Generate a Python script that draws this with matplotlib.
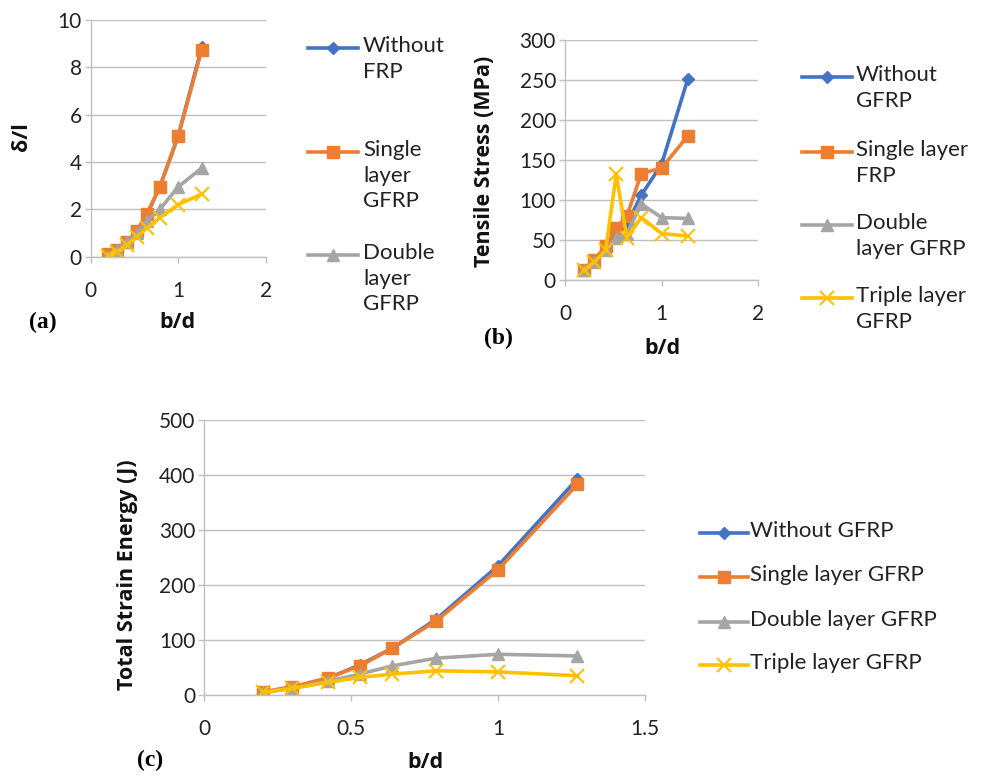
import matplotlib
matplotlib.use("Agg")
import matplotlib.pyplot as plt
from matplotlib.lines import Line2D

plt.rcParams["font.family"] = ["Lato", "DejaVu Sans"]

W, H = 985, 777

# b/d ratios shared by all three panels
bd = [0.2, 0.3, 0.42, 0.53, 0.64, 0.79, 1.0, 1.27]

# (a) deflection ratio
defl_none = [0.1, 0.3, 0.6, 1.1, 1.75, 2.95, 5.1, 8.85]
defl_single = [0.1, 0.3, 0.6, 1.1, 1.8, 2.95, 5.1, 8.75]
defl_double = [0.05, 0.3, 0.6, 1.0, 1.5, 2.0, 2.95, 3.75]
defl_triple = [0.05, 0.2, 0.5, 0.85, 1.2, 1.65, 2.2, 2.65]

# (b) tensile stress, MPa
stress_none = [12, 25, 40, 55, 70, 106, 145, 251]
stress_single = [13, 25, 42, 65, 80, 133, 140, 180]
stress_double = [12, 22, 37, 52, 58, 95, 78, 77]
stress_triple = [12, 22, 37, 132, 53, 78, 58, 55]

# (c) total strain energy, J
energy_none = [5, 13, 30, 55, 85, 138, 235, 393]
energy_single = [6, 15, 31, 53, 85, 135, 228, 383]
energy_double = [5, 12, 25, 38, 53, 67, 74, 71]
energy_triple = [5, 12, 23, 32, 38, 44, 42, 35]

labels_a = ["Without\nFRP", "Single\nlayer\nGFRP", "Double\nlayer\nGFRP"]
labels_b = ["Without\nGFRP", "Single layer\nFRP", "Double\nlayer GFRP", "Triple layer\nGFRP"]
labels_c = ["Without GFRP", "Single layer GFRP", "Double layer GFRP", "Triple layer GFRP"]

colors = ["#4472C4", "#ED7D31", "#A5A5A5", "#FFC000"]
markers = ["D", "s", "^", "x"]
msizes = [6, 9, 8, 10]
grid_col = "#BFBFBF"
bold_font = ["Open Sans", "DejaVu Sans"]
bold_size = 15.5


def px_axes(fig, x0, y0, x1, y1):
    # axes from pixel box (left, top, right, bottom)
    return fig.add_axes([x0 / W, 1 - y1 / H, (x1 - x0) / W, (y1 - y0) / H])


def style(ax, xlim, xticks, ylim, yticks):
    ax.set_xlim(*xlim)
    ax.set_ylim(*ylim)
    ax.set_xticks(xticks)
    ax.set_yticks(yticks)
    ax.set_xticklabels([f"{t:g}" for t in xticks])
    ax.set_yticklabels([f"{t:g}" for t in yticks])
    for s in ["top", "right"]:
        ax.spines[s].set_visible(False)
    for s in ["left", "bottom"]:
        ax.spines[s].set_color(grid_col)
        ax.spines[s].set_linewidth(1.0)
    ax.yaxis.grid(True, color=grid_col, linewidth=1.0)
    ax.set_axisbelow(True)
    ax.tick_params(axis="both", colors=grid_col, labelcolor="#222222", labelsize=15,
                   length=4.5, width=1.0)
    ax.tick_params(axis="x", pad=13)
    ax.tick_params(axis="y", pad=2)


def plot_series(ax, ys, lw=2.6):
    for y, c, m, ms in zip(ys, colors, markers, msizes):
        ax.plot(bd, y, color=c, marker=m, markersize=ms, linewidth=lw,
                markeredgecolor=c, markeredgewidth=1.5 if m == "x" else 1.0,
                solid_joinstyle="round")


def legend(fig, labels, x0, x1, xt, rows, fs=16):
    for lab, c, m, ms, yr in zip(labels, colors, markers, msizes, rows):
        fig.add_artist(Line2D([x0 / W, x1 / W], [1 - yr / H, 1 - yr / H],
                              color=c, linewidth=2.6, transform=fig.transFigure))
        fig.add_artist(Line2D([(x0 + x1) / 2 / W], [1 - yr / H], color=c, marker=m,
                              markersize=ms, markeredgecolor=c,
                              markeredgewidth=1.5 if m == "x" else 1.0,
                              transform=fig.transFigure))
        fig.text(xt / W, 1 - (yr - 12) / H, lab, fontsize=fs, va="top", ha="left",
                 color="#222222", linespacing=1.35)


def label(fig, x, y, s, rotation=0):
    return fig.text(x / W, 1 - y / H, s, rotation=rotation, fontsize=bold_size,
                    fontweight="bold", family=bold_font, ha="center", va="center",
                    color="#111111")


fig = plt.figure(figsize=(W / 100, H / 100), dpi=100)

# (a)
ax_a = px_axes(fig, 90.7, 20, 265.7, 256.7)
plot_series(ax_a, [defl_none, defl_single, defl_double, defl_triple])
style(ax_a, (0, 2), [0, 1, 2], (0, 10), [0, 2, 4, 6, 8, 10])
label(fig, 22, 137, "δ/l", rotation=90)
label(fig, 177, 322, "b/d")
fig.text(43 / W, 1 - 322 / H, "(a)", fontsize=17, fontweight="bold", ha="center", va="center",
         family="Liberation Serif")
legend(fig, labels_a, 308, 358, 363, [48, 152, 255])

# (b)
ax_b = px_axes(fig, 565, 40, 758.3, 280)
plot_series(ax_b, [stress_none, stress_single, stress_double, stress_triple])
style(ax_b, (0, 2), [0, 1, 2], (0, 300), [0, 50, 100, 150, 200, 250, 300])
label(fig, 485, 161, "Tensile Stress (MPa)", rotation=90)
label(fig, 662, 348, "b/d")
fig.text(498 / W, 1 - 338 / H, "(b)", fontsize=17, fontweight="bold", ha="center", va="center",
         family="Liberation Serif")
legend(fig, labels_b, 802, 852, 856, [77, 152, 225, 298])

# (c)
ax_c = px_axes(fig, 204.3, 420, 645, 695)
plot_series(ax_c, [energy_none, energy_single, energy_double, energy_triple])
style(ax_c, (0, 1.5), [0, 0.5, 1, 1.5], (0, 500), [0, 100, 200, 300, 400, 500])
label(fig, 128, 575, "Total Strain Energy (J)", rotation=90)
label(fig, 425, 762, "b/d")
fig.text(150 / W, 1 - 760 / H, "(c)", fontsize=17, fontweight="bold", ha="center", va="center",
         family="Liberation Serif")
legend(fig, labels_c, 700, 748, 750, [533, 577, 622, 665])

fig.savefig("out.png", dpi=100)
